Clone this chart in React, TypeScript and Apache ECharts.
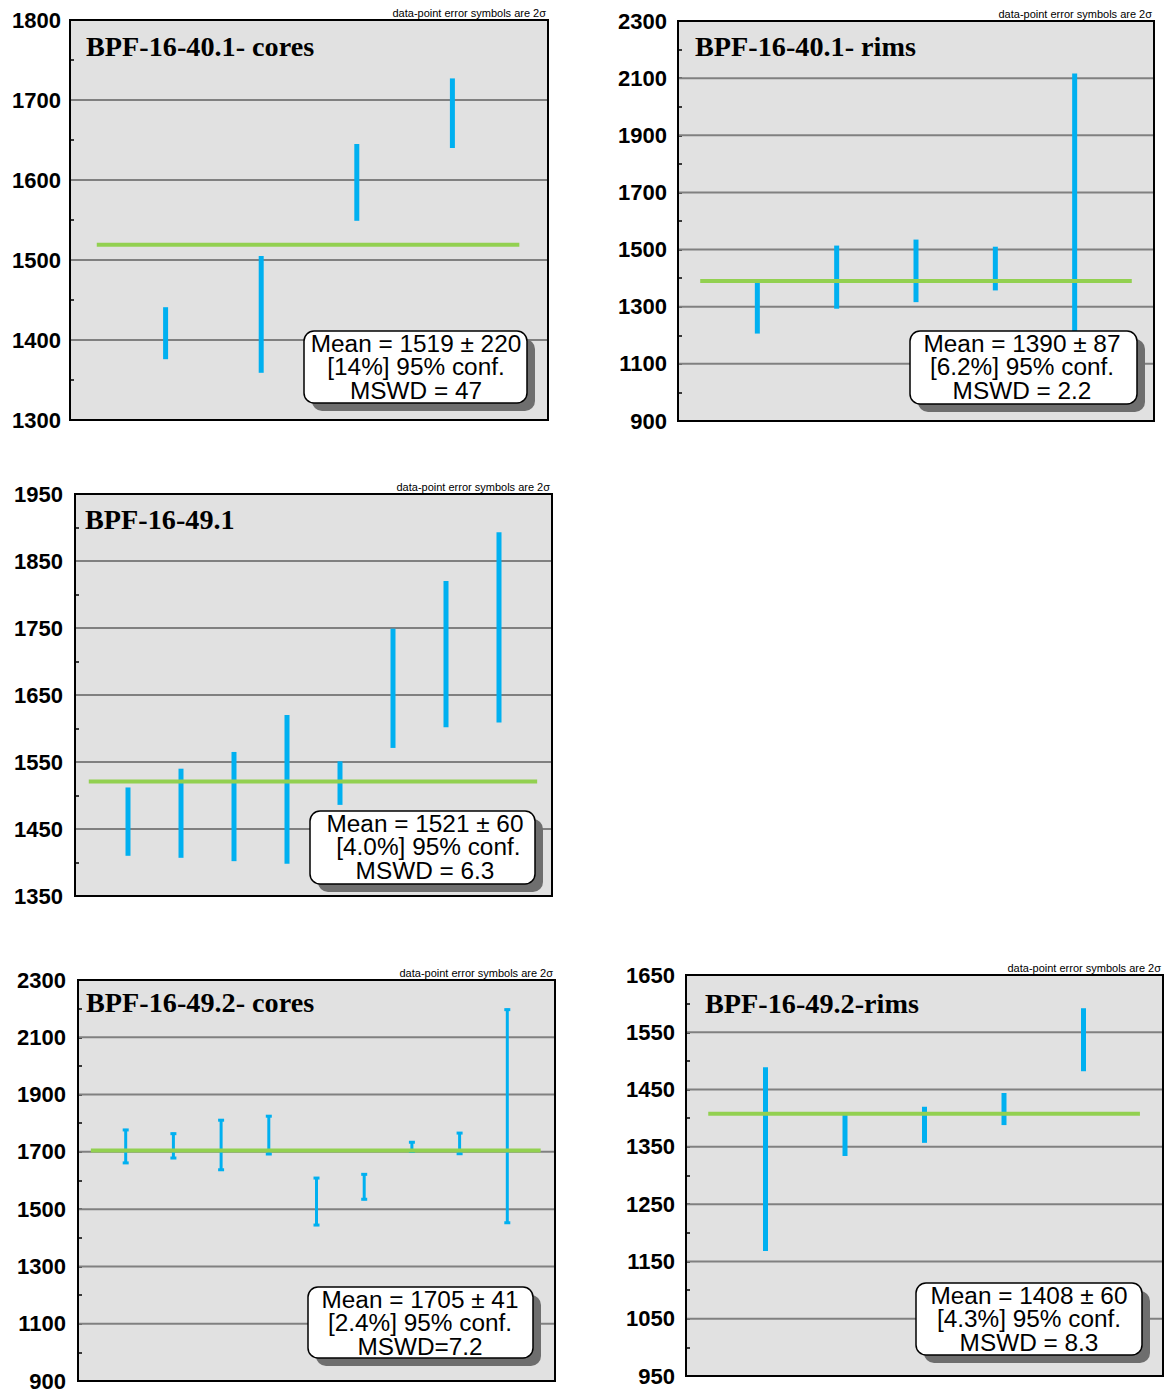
import React, { useEffect, useRef } from 'react';
import * as echarts from 'echarts';

// ---------- DATA ----------
const titles = ['BPF-16-40.1- cores', 'BPF-16-40.1- rims', 'BPF-16-49.1', 'BPF-16-49.2- cores', 'BPF-16-49.2-rims'];

// error bar lower / upper ends (2 sigma)
const p1Lo = [1376, 1359, 1549, 1640];
const p1Hi = [1441, 1505, 1645, 1727];
const p2Lo = [1206, 1293, 1316, 1357, 1200];
const p2Hi = [1384, 1514, 1535, 1510, 2116];
const p3Lo = [1410, 1407, 1402, 1398, 1486, 1571, 1602, 1609];
const p3Hi = [1512, 1540, 1565, 1620, 1551, 1749, 1820, 1893];
const p4Lo = [1658, 1675, 1634, 1689, 1441, 1531, 1698, 1690, 1449];
const p4Hi = [1780, 1767, 1814, 1828, 1612, 1625, 1737, 1769, 2200];
const p5Lo = [1168, 1334, 1357, 1388, 1482];
const p5Hi = [1489, 1406, 1420, 1444, 1592];

const means = [1519, 1390, 1521, 1705, 1408];

const statLines = [
  ['Mean = 1519 ± 220', '[14%] 95% conf.', 'MSWD = 47'],
  ['Mean = 1390 ± 87', '[6.2%] 95% conf.', 'MSWD = 2.2'],
  ['Mean = 1521 ± 60', ' [4.0%] 95% conf.', 'MSWD = 6.3'],
  ['Mean = 1705 ± 41', '[2.4%] 95% conf.', 'MSWD=7.2'],
  ['Mean = 1408 ± 60', '[4.3%] 95% conf.', 'MSWD = 8.3'],
];

// y-axis tick labels
const p1Ticks = [1300, 1400, 1500, 1600, 1700, 1800];
const p2Ticks = [900, 1100, 1300, 1500, 1700, 1900, 2100, 2300];
const p3Ticks = [1350, 1450, 1550, 1650, 1750, 1850, 1950];
const p4Ticks = [900, 1100, 1300, 1500, 1700, 1900, 2100, 2300];
const p5Ticks = [950, 1050, 1150, 1250, 1350, 1450, 1550, 1650];
const minorSteps = [50, 100, 50, 100, 50];

// mean line x-extent (in point-index units)
const meanStart = [0.28, 0.28, 0.26, 0.27, 0.28];
const meanEndPad = [0.7, 0.72, 0.72, 0.7, 0.71];

const NOTE = 'data-point error symbols are 2σ';

// ---------- LAYOUT ----------
const layout = [
  { left: 70, top: 20, width: 478, height: 400, labelMargin: 9, titleX: 86, titleY: 47, box: [304, 331, 223, 72], textCx: 416, barW: 5, caps: false },
  { left: 678, top: 21, width: 476, height: 400, labelMargin: 11, titleX: 695, titleY: 47, box: [910, 331, 227, 73], textCx: 1022, barW: 5, caps: false },
  { left: 75, top: 494, width: 477, height: 402, labelMargin: 12, titleX: 85, titleY: 520, box: [310, 811, 225, 73], textCx: 425, barW: 5, caps: false },
  { left: 78, top: 980, width: 477, height: 401, labelMargin: 12, titleX: 86, titleY: 1003, box: [308, 1287, 225, 71], textCx: 420, barW: 3, caps: true },
  { left: 686, top: 975, width: 477, height: 401, labelMargin: 11, titleX: 705, titleY: 1004, box: [916, 1283, 226, 72], textCx: 1029, barW: 5, caps: false },
];

const los = [p1Lo, p2Lo, p3Lo, p4Lo, p5Lo];
const his = [p1Hi, p2Hi, p3Hi, p4Hi, p5Hi];
const ticks = [p1Ticks, p2Ticks, p3Ticks, p4Ticks, p5Ticks];

const BLUE = '#00b0f0';
const GREEN = '#92d050';

function buildOption() {
  const grid: any[] = [];
  const xAxis: any[] = [];
  const yAxis: any[] = [];
  const series: any[] = [];
  const graphic: any[] = [];

  layout.forEach((L, i) => {
    const n = los[i].length;
    const tk = ticks[i];
    const yMin = tk[0];
    const yMax = tk[tk.length - 1];
    grid.push({
      left: L.left, top: L.top, width: L.width, height: L.height,
      show: true, backgroundColor: '#e1e1e1', borderColor: '#000', borderWidth: 2,
    });
    xAxis.push({ gridIndex: i, type: 'value', min: 0, max: n + 1, show: false });
    yAxis.push({
      gridIndex: i, type: 'value', min: yMin, max: yMax, interval: minorSteps[i],
      axisLine: { show: true, lineStyle: { color: '#000', width: 2 } },
      axisTick: { show: true, inside: true, length: 4, lineStyle: { color: '#000', width: 1.5 } },
      splitLine: { show: false },
      axisLabel: {
        margin: L.labelMargin,
        color: '#000', fontSize: 22, fontWeight: 'bold', fontFamily: '"Liberation Sans", Arial, sans-serif',
        formatter: (v: number) => (tk.some((t) => Math.abs(t - v) < 1e-6) ? String(v) : ''),
      },
    });

    // grid lines at interior labelled values
    const gridVals = tk.slice(1, tk.length - 1);
    series.push({
      type: 'custom', xAxisIndex: i, yAxisIndex: i, z: 1, silent: true,
      data: gridVals.map((v) => [0, v]),
      renderItem: (params: any, api: any) => {
        const y = api.value(1);
        const a = api.coord([0, y]);
        const b = api.coord([n + 1, y]);
        return {
          type: 'line',
          shape: { x1: a[0] + 1, y1: a[1], x2: b[0] - 1, y2: b[1] },
          style: { stroke: '#808080', lineWidth: 2 },
        };
      },
    });

    // error bars
    const barW = L.barW;
    const caps = L.caps;
    series.push({
      type: 'custom', xAxisIndex: i, yAxisIndex: i, z: 2, silent: true,
      data: los[i].map((lo, k) => [k + 1, lo, his[i][k]]),
      encode: { x: 0, y: [1, 2] },
      renderItem: (params: any, api: any) => {
        const x = api.value(0);
        const lo = api.coord([x, api.value(1)]);
        const hi = api.coord([x, api.value(2)]);
        const children: any[] = [
          { type: 'line', shape: { x1: lo[0], y1: lo[1], x2: hi[0], y2: hi[1] }, style: { stroke: BLUE, lineWidth: barW } },
        ];
        if (caps) {
          children.push({ type: 'line', shape: { x1: lo[0] - 3, y1: lo[1] - 1, x2: lo[0] + 3, y2: lo[1] - 1 }, style: { stroke: BLUE, lineWidth: 3 } });
          children.push({ type: 'line', shape: { x1: hi[0] - 3, y1: hi[1] + 1, x2: hi[0] + 3, y2: hi[1] + 1 }, style: { stroke: BLUE, lineWidth: 3 } });
        }
        return { type: 'group', children };
      },
    });

    // weighted mean line
    series.push({
      type: 'line', xAxisIndex: i, yAxisIndex: i, z: 3, silent: true,
      symbol: 'none', showSymbol: false,
      lineStyle: { color: GREEN, width: 4 },
      data: [[meanStart[i], means[i]], [n + meanEndPad[i], means[i]]],
    });

    // title
    graphic.push({
      type: 'text', x: L.titleX, y: L.titleY, z: 50, scaleX: 1.045,
      style: { text: titles[i], fill: '#000', font: 'bold 27px "Liberation Serif", serif', textAlign: 'left', textVerticalAlign: 'middle' },
    });
    // note
    graphic.push({
      type: 'text', x: L.left + L.width - 2, y: L.top - 7, z: 50,
      style: { text: NOTE, fill: '#000', font: '11px "Liberation Sans", Arial, sans-serif', textAlign: 'right', textVerticalAlign: 'middle' },
    });
    // stats box
    const [bx, by, bw, bh] = L.box;
    graphic.push({
      type: 'rect', z: 60, shape: { x: bx + 8, y: by + 8, width: bw, height: bh, r: 10 },
      style: { fill: '#6e6e6e' },
    });
    graphic.push({
      type: 'rect', z: 61, shape: { x: bx, y: by, width: bw, height: bh, r: 10 },
      style: { fill: '#ffffff', stroke: '#000', lineWidth: 1.5 },
    });
    statLines[i].forEach((line, j) => {
      graphic.push({
        type: 'text', x: L.textCx, y: by + 13 + j * 23.5, z: 62, scaleX: 1.06,
        style: {
          text: line, fill: '#000', font: '23px "Liberation Sans", Arial, sans-serif',
          textAlign: 'center', textVerticalAlign: 'middle',
        },
      });
    });
  });

  return { animation: false, backgroundColor: '#ffffff', grid, xAxis, yAxis, series, graphic };
}

export default function App() {
  const ref = useRef<HTMLDivElement>(null);
  useEffect(() => {
    if (!ref.current) return;
    const chart = echarts.init(ref.current, undefined, { renderer: 'svg' });
    chart.setOption(buildOption() as any);
    return () => chart.dispose();
  }, []);
  return (
    <div
      ref={ref}
      style={{ position: 'absolute', left: 0, top: 0, width: 1165, height: 1394, background: '#fff' }}
    />
  );
}
